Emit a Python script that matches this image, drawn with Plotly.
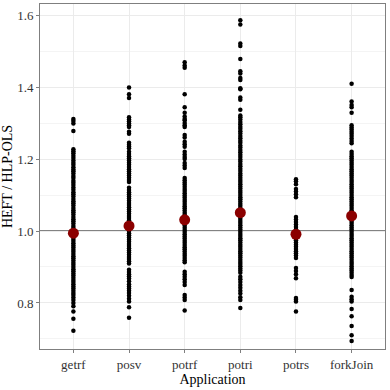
"""Plot HEFT / HLP-OLS ratio per application."""
import plotly.graph_objects as go

APPS = ["getrf", "posv", "potrf", "potri", "potrs", "forkJoin"]

GETRF = [
    1.311, 1.306, 1.299, 1.278, 1.227, 1.222, 1.216, 1.209, 1.203, 1.196,
    1.190, 1.184, 1.177, 1.171, 1.166, 1.160, 1.153, 1.147, 1.140, 1.134,
    1.128, 1.121, 1.115, 1.108, 1.102, 1.096, 1.089, 1.083, 1.077, 1.071,
    1.064, 1.058, 1.052, 1.046, 1.039, 1.033, 1.027, 1.021, 1.014, 1.008,
    1.002, 0.996, 0.990, 0.984, 0.978, 0.972, 0.966, 0.960, 0.954, 0.948,
    0.942, 0.936, 0.930, 0.924, 0.918, 0.912, 0.906, 0.900, 0.894, 0.888,
    0.882, 0.876, 0.870, 0.864, 0.858, 0.852, 0.846, 0.840, 0.834, 0.828,
    0.822, 0.815, 0.808, 0.800, 0.791, 0.776, 0.756, 0.723,
]
POSV = [
    1.399, 1.380, 1.370, 1.316, 1.310, 1.305, 1.299, 1.294, 1.289, 1.276,
    1.270, 1.245, 1.240, 1.235, 1.230, 1.220, 1.214, 1.208, 1.202, 1.196,
    1.190, 1.184, 1.178, 1.172, 1.166, 1.160, 1.154, 1.148, 1.142, 1.136,
    1.120, 1.114, 1.108, 1.102, 1.096, 1.090, 1.084, 1.078, 1.072, 1.066,
    1.060, 1.054, 1.048, 1.042, 1.036, 1.030, 1.024, 1.018, 1.012, 1.006,
    1.000, 0.994, 0.988, 0.982, 0.976, 0.970, 0.964, 0.958, 0.952, 0.946,
    0.940, 0.934, 0.928, 0.922, 0.916, 0.910, 0.892, 0.886, 0.880, 0.874,
    0.868, 0.860, 0.852, 0.846, 0.840, 0.834, 0.828, 0.820, 0.812, 0.804,
    0.788, 0.759,
]
POTRF = [
    1.469, 1.460, 1.454, 1.380, 1.344, 1.329, 1.318, 1.311, 1.308, 1.300,
    1.294, 1.289, 1.267, 1.260, 1.248, 1.241, 1.234, 1.220, 1.213, 1.206,
    1.200, 1.189, 1.182, 1.175, 1.147, 1.141, 1.135, 1.129, 1.123, 1.117,
    1.111, 1.105, 1.099, 1.093, 1.087, 1.081, 1.075, 1.069, 1.063, 1.057,
    1.051, 1.045, 1.039, 1.033, 1.027, 1.021, 1.015, 1.009, 1.003, 0.997,
    0.991, 0.985, 0.979, 0.973, 0.967, 0.961, 0.955, 0.949, 0.943, 0.937,
    0.931, 0.925, 0.919, 0.913, 0.887, 0.880, 0.873, 0.866, 0.858, 0.850,
    0.822, 0.815, 0.808, 0.779,
]
POTRI = [
    1.586, 1.574, 1.521, 1.514, 1.478, 1.444, 1.438, 1.425, 1.420, 1.397,
    1.394, 1.371, 1.365, 1.337, 1.321, 1.316, 1.310, 1.303, 1.297, 1.290,
    1.284, 1.277, 1.271, 1.264, 1.258, 1.251, 1.245, 1.238, 1.232, 1.225,
    1.219, 1.212, 1.206, 1.199, 1.193, 1.186, 1.180, 1.173, 1.167, 1.160,
    1.154, 1.148, 1.142, 1.136, 1.130, 1.124, 1.118, 1.112, 1.106, 1.100,
    1.094, 1.088, 1.082, 1.076, 1.070, 1.064, 1.058, 1.052, 1.046, 1.040,
    1.034, 1.028, 1.022, 1.016, 1.010, 1.004, 0.998, 0.992, 0.986, 0.980,
    0.974, 0.968, 0.962, 0.956, 0.950, 0.944, 0.938, 0.932, 0.926, 0.920,
    0.914, 0.908, 0.902, 0.896, 0.890, 0.884, 0.873, 0.866, 0.858, 0.850,
    0.842, 0.834, 0.826, 0.816, 0.808, 0.786,
]
POTRS = [
    1.144, 1.138, 1.130, 1.117, 1.110, 1.102, 1.094, 1.039, 1.032, 1.025,
    1.018, 1.011, 1.004, 0.998, 0.992, 0.986, 0.980, 0.974, 0.968, 0.962,
    0.956, 0.950, 0.944, 0.938, 0.932, 0.925, 0.897, 0.889, 0.880, 0.869,
    0.814, 0.809, 0.804, 0.776,
]
FORKJOIN = [
    1.409, 1.360, 1.350, 1.344, 1.329, 1.294, 1.288, 1.282, 1.276, 1.270,
    1.264, 1.257, 1.250, 1.244, 1.220, 1.214, 1.208, 1.202, 1.196, 1.190,
    1.184, 1.178, 1.172, 1.166, 1.160, 1.154, 1.148, 1.142, 1.136, 1.130,
    1.124, 1.118, 1.112, 1.106, 1.100, 1.094, 1.088, 1.082, 1.076, 1.070,
    1.064, 1.058, 1.052, 1.046, 1.040, 1.034, 1.028, 1.022, 1.016, 1.010,
    1.004, 0.998, 0.992, 0.986, 0.980, 0.974, 0.968, 0.962, 0.956, 0.950,
    0.944, 0.938, 0.932, 0.926, 0.920, 0.914, 0.908, 0.902, 0.896, 0.890,
    0.884, 0.878, 0.872, 0.836, 0.817, 0.810, 0.804, 0.783, 0.763, 0.736,
    0.710, 0.694,
]
RATIOS = [GETRF, POSV, POTRF, POTRI, POTRS, FORKJOIN]

# mean per application (red points)
MEANS = [0.994, 1.014, 1.031, 1.051, 0.991, 1.042]

FONT = "Liberation Serif, Times New Roman, serif"


def plot_ratios():
    """Strip plot of ratios with mean per application.

    Returns:
        go.Figure: figure

    """
    fig = go.Figure()
    for app, vals in zip(APPS, RATIOS):
        fig.add_trace(
            go.Scatter(
                x=[app] * len(vals),
                y=vals,
                mode="markers",
                marker=dict(color="black", size=4.5, line_width=0),
                showlegend=False,
                hoverinfo="y",
            )
        )
    fig.add_hline(y=1.0, line_color="#5A5A5A", line_width=1.3, layer="below")
    fig.add_trace(
        go.Scatter(
            x=APPS,
            y=MEANS,
            mode="markers",
            marker=dict(color="#8B0000", size=11, line_width=0),
            showlegend=False,
        )
    )
    axis = dict(
        showline=True,
        linecolor="#7F7F7F",
        linewidth=1,
        mirror=True,
        ticks="outside",
        ticklen=3,
        tickcolor="#7F7F7F",
        gridcolor="#EBEBEB",
        gridwidth=1,
        zeroline=False,
        automargin=False,
        tickfont=dict(family=FONT, size=13, color="#333333"),
        title_font=dict(family=FONT, size=14, color="black"),
    )
    fig.update_layout(
        width=390,
        height=390,
        paper_bgcolor="white",
        plot_bgcolor="white",
        font=dict(family=FONT),
        margin=dict(l=40, r=5, t=4, b=41, autoexpand=False),
        xaxis=dict(
            axis,
            title=dict(text="Application", standoff=0),
            range=[-0.6, 5.6],
        ),
        yaxis=dict(
            axis,
            title=dict(text="HEFT / HLP-OLS", standoff=3),
            range=[0.672, 1.631],
            tick0=0.8,
            dtick=0.2,
            tickformat=".1f",
            minor=dict(dtick=0.1, tick0=0.7, showgrid=True, gridcolor="#F4F4F4", gridwidth=0.6),
        ),
    )
    return fig


fig = plot_ratios()
# page body has a default margin that would shift the chart
fig.write_html(
    "out.html",
    config={"displayModeBar": False},
    post_script="document.body.style.margin = '0';",
)
